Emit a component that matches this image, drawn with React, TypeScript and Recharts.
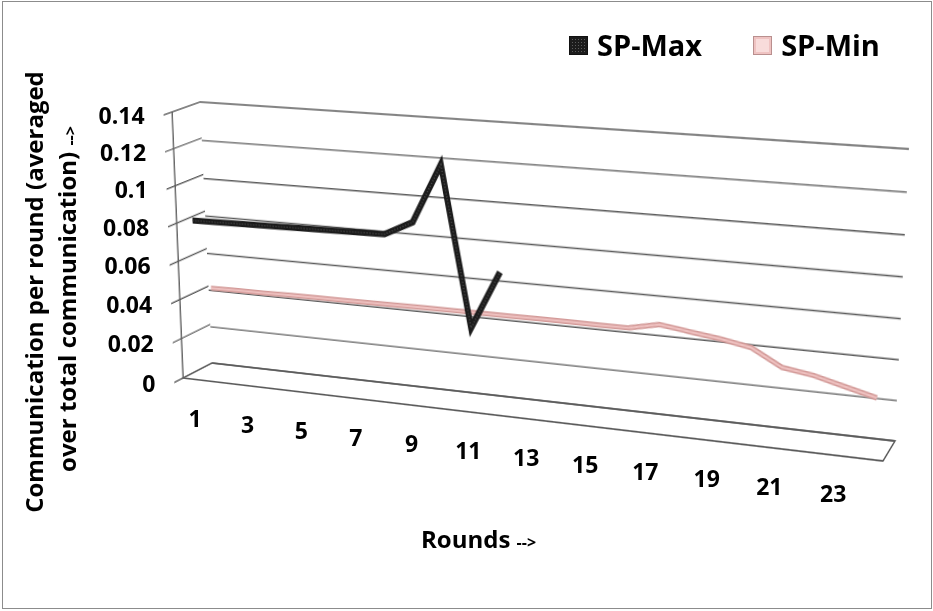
import React from 'react';
import { LineChart, Line, XAxis, YAxis, ReferenceArea, ReferenceLine, Legend } from 'recharts';

// data
const rounds = [1, 2, 3, 4, 5, 6, 7, 8, 9, 10, 11, 12, 13, 14, 15, 16, 17, 18, 19, 20, 21, 22, 23, 24];
const spMax = [0.084, 0.0842, 0.0845, 0.0848, 0.085, 0.0853, 0.0856, 0.0858, 0.0931, 0.123, 0.0424, 0.072];
const spMin = [
  0.0444, 0.0446, 0.0447, 0.0449, 0.045, 0.0451, 0.0452, 0.0453, 0.0454, 0.0455, 0.0456, 0.0456,
  0.0457, 0.0457, 0.0456, 0.0457, 0.0488, 0.0468, 0.0448, 0.042, 0.0338, 0.0315, 0.0276, 0.0238,
];
const yTicks = [0, 0.02, 0.04, 0.06, 0.08, 0.1, 0.12, 0.14];
const xTickLabels = [1, 3, 5, 7, 9, 11, 13, 15, 17, 19, 21, 23];
const seriesNames = ['SP-Max', 'SP-Min'];

const rows = rounds.map((r, i) => ({
  round: r,
  spMax: i < spMax.length ? spMax[i] : null,
  spMin: spMin[i],
}));
// side wall / floor only need something for their axes to hang on
const depthRows = [{ d: -0.3, v: 0 }, { d: 1, v: 0.14 }];
const floorRows = [{ round: 0.5, v: 0 }, { round: 24.5, v: 1 }];

// ---- fake 3d: every plane is a flat chart warped onto a quad (TL, TR, BR, BL)
type Pt = [number, number];
const FRONT: Pt[] = [[172, 112], [897, 164], [883, 461], [183, 378]];
const BACK: Pt[] = [[200, 102], [909, 149], [895, 441], [212, 363]];

const lerp = (a: Pt, b: Pt, t: number): Pt => [a[0] + (b[0] - a[0]) * t, a[1] + (b[1] - a[1]) * t];
const quadAt = (t: number): Pt[] => FRONT.map((p, i) => lerp(p, BACK[i], t));

const WALL_LEFT: Pt[] = [lerp(FRONT[0], BACK[0], -0.3), BACK[0], BACK[3], lerp(FRONT[3], BACK[3], -0.3)];
const FLOOR: Pt[] = [BACK[3], BACK[2], FRONT[2], FRONT[3]];

function coeffs(q: Pt[]) {
  const [[x0, y0], [x1, y1], [x2, y2], [x3, y3]] = q;
  const dx1 = x1 - x2, dx2 = x3 - x2, dx3 = x0 - x1 + x2 - x3;
  const dy1 = y1 - y2, dy2 = y3 - y2, dy3 = y0 - y1 + y2 - y3;
  const det = dx1 * dy2 - dx2 * dy1;
  const g = (dx3 * dy2 - dx2 * dy3) / det;
  const h = (dx1 * dy3 - dx3 * dy1) / det;
  return {
    a: x1 - x0 + g * x1, b: x3 - x0 + h * x3, c: x0,
    d: y1 - y0 + g * y1, e: y3 - y0 + h * y3, f: y0,
    g, h,
  };
}

function project(q: Pt[], u: number, v: number): Pt {
  const k = coeffs(q);
  const w = k.g * u + k.h * v + 1;
  return [(k.a * u + k.b * v + k.c) / w, (k.d * u + k.e * v + k.f) / w];
}

const M = 6;

function quadMatrix(q: Pt[], w: number, h: number) {
  const k = coeffs(q);
  const m = [
    k.a / w, k.d / w, 0, k.g / w,
    k.b / h, k.e / h, 0, k.h / h,
    0, 0, 1, 0,
    k.c - (k.a * M) / w - (k.b * M) / h,
    k.f - (k.d * M) / w - (k.e * M) / h,
    0,
    1 - (k.g * M) / w - (k.h * M) / h,
  ];
  return `matrix3d(${m.join(',')})`;
}

function Plane({ quad, w, h, children }: { quad: Pt[]; w: number; h: number; children: React.ReactNode }) {
  return (
    <div
      style={{
        position: 'absolute', left: 0, top: 0, width: w + 2 * M, height: h + 2 * M,
        transformOrigin: '0 0', transform: quadMatrix(quad, w, h),
      }}
    >
      {children}
    </div>
  );
}

const GRID = '#5c5c5c';
const FONT = "'Open Sans', sans-serif";
const PW = 700;
const PH = 265;
const FH = 18;
const margin = { top: M, right: M, bottom: M, left: M };

// axes that take no room and draw nothing, but still give scales
const quietX = { height: 0, tick: false, axisLine: false, tickLine: false } as const;
const quietY = { width: 0, tick: false, axisLine: false, tickLine: false } as const;

const gridLines = () => yTicks.map((t) => <ReferenceLine key={t} y={t} stroke={GRID} strokeWidth={1.4} />);

const renderXTick = (props: any) => {
  const val = props.payload.value;
  const [x, y] = project(FRONT, (val - 0.5) / 24, 1);
  return (
    <text x={x - 1} y={y + 38} textAnchor="middle" dominantBaseline="central" fontFamily={FONT} fontWeight={700} fontSize={23} fill="#000">
      {val}
    </text>
  );
};

const renderYTick = (props: any) => {
  const val = props.payload.value;
  const [x, y] = project(WALL_LEFT, 0, 1 - val / 0.14);
  return (
    <text x={x - 19} y={y} textAnchor="end" dominantBaseline="central" fontFamily={FONT} fontWeight={700} fontSize={23} fill="#000">
      {String(val)}
    </text>
  );
};

function LegendIcon({ i }: { i: number }) {
  if (i === 0) {
    return (
      <svg width={19} height={19} style={{ display: 'block' }}>
        <defs>
          <pattern id="hatch" width={3} height={3} patternUnits="userSpaceOnUse">
            <rect width={3} height={3} fill="#1c1c1c" />
            <rect width={1} height={1} fill="#5a5a5a" />
          </pattern>
        </defs>
        <rect x={0.5} y={0.5} width={18} height={18} fill="url(#hatch)" stroke="#111" />
      </svg>
    );
  }
  return (
    <svg width={19} height={19} style={{ display: 'block' }}>
      <rect x={0.5} y={0.5} width={18} height={18} fill="#efc3c2" stroke="#b98f8e" />
      <rect x={3} y={3} width={13} height={13} fill="#f8dcdb" />
    </svg>
  );
}

const renderLegend = () => (
  <div style={{ display: 'flex', alignItems: 'center', fontFamily: FONT, fontWeight: 700, fontSize: 29, color: '#000' }}>
    {seriesNames.map((name, i) => (
      <div key={name} style={{ display: 'flex', alignItems: 'center', marginRight: i === 0 ? 51 : 0 }}>
        <LegendIcon i={i} />
        <span style={{ marginLeft: 9, lineHeight: '30px' }}>{name}</span>
      </div>
    ))}
  </div>
);

export default function App() {
  return (
    <div style={{ position: 'absolute', left: 0, top: 0, width: 933, height: 611, background: '#fff', overflow: 'hidden' }}>
      <div style={{ position: 'absolute', left: 2, top: 1, width: 930, height: 608, border: '1px solid #8c8c8c', boxSizing: 'border-box' }} />

      {/* floor */}
      <Plane quad={FLOOR} w={PW} h={FH}>
        <LineChart width={PW + 2 * M} height={FH + 2 * M} data={floorRows} margin={margin}>
          <XAxis dataKey="round" type="number" domain={[0.5, 24.5]} {...quietX} />
          <YAxis dataKey="v" type="number" domain={[0, 1]} {...quietY} />
          <ReferenceArea x1={0.5} x2={24.5} y1={0} y2={1} fill="none" fillOpacity={0} stroke={GRID} strokeWidth={1.4} strokeOpacity={1} ifOverflow="visible" />
        </LineChart>
      </Plane>

      {/* back wall */}
      <Plane quad={BACK} w={PW} h={PH}>
        <LineChart width={PW + 2 * M} height={PH + 2 * M} data={rows} margin={margin}>
          <XAxis dataKey="round" type="number" domain={[0.5, 24.5]} {...quietX} />
          <YAxis dataKey="spMin" type="number" domain={[0, 0.14]} {...quietY} />
          {gridLines()}
        </LineChart>
      </Plane>

      {/* side wall, ticks stick out the front */}
      <Plane quad={WALL_LEFT} w={40} h={PH}>
        <LineChart width={40 + 2 * M} height={PH + 2 * M} data={depthRows} margin={margin}>
          <XAxis dataKey="d" type="number" domain={[-0.3, 1]} {...quietX} />
          <YAxis dataKey="v" type="number" domain={[0, 0.14]} {...quietY} />
          {gridLines()}
          <ReferenceLine x={0} stroke={GRID} strokeWidth={1.4} />
        </LineChart>
      </Plane>

      {/* SP-Min ribbon, further back */}
      <Plane quad={quadAt(0.65)} w={PW} h={PH}>
        <LineChart width={PW + 2 * M} height={PH + 2 * M} data={rows} margin={margin}>
          <XAxis dataKey="round" type="number" domain={[0.5, 24.5]} {...quietX} />
          <YAxis type="number" domain={[0, 0.14]} {...quietY} />
          <Line type="linear" dataKey="spMin" stroke="#d29997" strokeWidth={5} dot={false} isAnimationActive={false} />
          <Line type="linear" dataKey="spMin" stroke="#efc2c1" strokeWidth={2} dot={false} isAnimationActive={false} />
        </LineChart>
      </Plane>

      {/* SP-Max ribbon, front */}
      <Plane quad={quadAt(0.1)} w={PW} h={PH}>
        <LineChart width={PW + 2 * M} height={PH + 2 * M} data={rows} margin={margin}>
          <XAxis dataKey="round" type="number" domain={[0.5, 24.5]} {...quietX} />
          <YAxis type="number" domain={[0, 0.14]} {...quietY} />
          <Line type="linear" dataKey="spMax" stroke="#1b1b1b" strokeWidth={6} strokeLinejoin="miter" dot={false} isAnimationActive={false} />
          <Line type="linear" dataKey="spMax" stroke="#4d4d4d" strokeWidth={1.5} strokeDasharray="1 2" dot={false} isAnimationActive={false} />
        </LineChart>
      </Plane>

      {/* labels, unwarped */}
      <div style={{ position: 'absolute', left: 0, top: 0 }}>
        <LineChart width={933} height={611} data={rows} margin={{ top: 0, right: 0, bottom: 0, left: 0 }}>
          <XAxis dataKey="round" type="number" domain={[0.5, 24.5]} ticks={xTickLabels} interval={0} axisLine={false} tickLine={false} tick={renderXTick} />
          <YAxis dataKey="spMin" type="number" domain={[0, 0.14]} ticks={yTicks} interval={0} axisLine={false} tickLine={false} tick={renderYTick} />
          <Legend content={renderLegend} wrapperStyle={{ position: 'absolute', left: 569, top: 30, width: 360 }} />
        </LineChart>
      </div>

      <svg width={933} height={611} style={{ position: 'absolute', left: 0, top: 0 }} fontFamily={FONT} fontWeight={700} fill="#000">
        <text transform="translate(43,292) rotate(-90)" textAnchor="middle" fontSize={24}>
          Communication per round (averaged
        </text>
        <text transform="translate(76,299) rotate(-90)" textAnchor="middle" fontSize={24}>
          over total communication) <tspan fontSize={16}>--&gt;</tspan>
        </text>
        <text x={421} y={548} fontSize={24}>
          Rounds <tspan fontSize={16}>--&gt;</tspan>
        </text>
      </svg>
    </div>
  );
}
